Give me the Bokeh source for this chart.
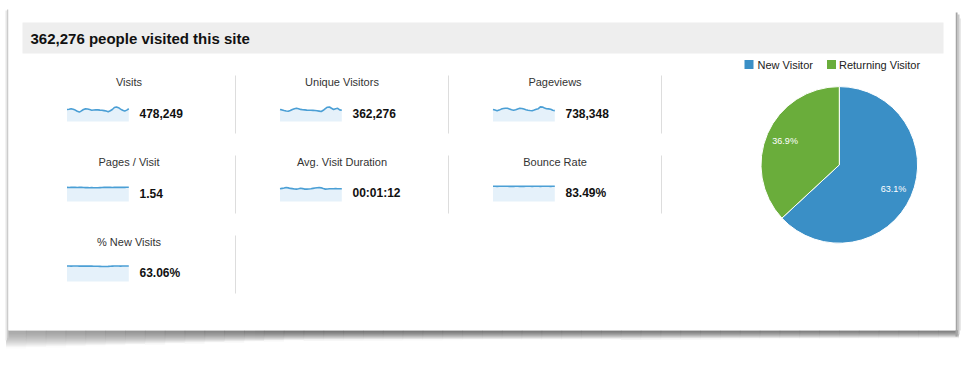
import numpy as np
from bokeh.plotting import figure
from bokeh.models import Range1d, ColumnDataSource
from bokeh.embed import file_html
from bokeh.resources import INLINE
from bokeh.core.properties import value

# ---------------- data ----------------
title_text = "362,276 people visited this site"

metric_labels = ["Visits", "Unique Visitors", "Pageviews",
                 "Pages / Visit", "Avg. Visit Duration", "Bounce Rate",
                 "% New Visits"]
metric_values = ["478,249", "362,276", "738,348",
                 "1.54", "00:01:12", "83.49%",
                 "63.06%"]

visits_daily = [15010, 15380, 15870, 15240, 14260, 12740, 11760, 13240, 15010, 15760,
                15620, 14880, 14120, 14380, 14630, 14500, 14250, 14130, 13620, 13010,
                12250, 13490, 15000, 17510, 18240, 17260, 15500, 14010, 13000, 14240, 15880]
unique_daily = [11400, 11020, 10450, 9980, 9790, 10450, 11400, 12160, 12640, 12160,
                11500, 11120, 11020, 10830, 10740, 10640, 10550, 10450, 10260, 9880,
                9500, 10640, 12160, 13590, 13780, 12540, 11400, 12160, 12540, 11020, 10640]
pageviews_daily = [22800, 21660, 20520, 21660, 23560, 24700, 25270, 25080, 23940, 22420,
                   21470, 22420, 23940, 25080, 24700, 23560, 22420, 21470, 20900, 20520,
                   21660, 23180, 24320, 27740, 27360, 25650, 24320, 23940, 23180, 21280, 20710]
pages_per_visit_daily = [1.55, 1.54, 1.55, 1.56, 1.55, 1.54, 1.55, 1.55, 1.54, 1.53,
                         1.53, 1.52, 1.53, 1.52, 1.51, 1.52, 1.53, 1.54, 1.55, 1.55,
                         1.56, 1.55, 1.54, 1.55, 1.56, 1.55, 1.55, 1.56, 1.55, 1.56, 1.56]
avg_duration_daily = [70, 72, 74, 77, 75, 72, 71, 69, 68, 70,
                      73, 71, 68, 68, 69, 70, 72, 74, 76, 77,
                      75, 71, 68, 69, 70, 70, 70, 71, 70, 70, 70]
bounce_rate_daily = [83.6, 83.5, 83.4, 83.5, 83.6, 83.7, 83.6, 83.5, 83.4, 83.3,
                     83.4, 83.5, 83.5, 83.4, 83.3, 83.4, 83.5, 83.6, 83.5, 83.4,
                     83.5, 83.6, 83.5, 83.4, 83.5, 83.5, 83.6, 83.5, 83.4, 83.5, 83.5]
new_visits_pct_daily = [63.4, 63.3, 63.2, 63.3, 63.4, 63.3, 63.2, 63.1, 63.2, 63.3,
                        63.2, 63.0, 62.9, 62.7, 62.5, 62.3, 62.0, 61.7, 61.5, 61.7,
                        62.2, 62.8, 63.1, 63.3, 63.4, 63.3, 63.2, 63.3, 63.4, 63.4, 63.5]

spark_series = [visits_daily, unique_daily, pageviews_daily,
                pages_per_visit_daily, avg_duration_daily, bounce_rate_daily,
                new_visits_pct_daily]
spark_scale_max = [25000, 19000, 38000, 2.2, 110, 110, 82]

visitor_types = ["New Visitor", "Returning Visitor"]
visitor_share = [63.1, 36.9]
visitor_colors = ["#3a8fc6", "#6aad3b"]

# ---------------- styles ----------------
FONT = value("Liberation Sans")
SPARK_LINE = "#4b9fd5"
SPARK_FILL = "#e5f1fa"

W, H = 967, 367
p = figure(width=W, height=H, x_range=Range1d(0, W), y_range=Range1d(H, 0),
           output_backend="svg", toolbar_location=None,
           x_axis_type=None, y_axis_type=None, min_border=0,
           outline_line_color=None, background_fill_color="white",
           border_fill_color="white")
p.xgrid.visible = False
p.ygrid.visible = False

# ---------------- card + shadow (decoration) ----------------
nseg = 48
xs = np.linspace(6, 958, nseg + 1)
L, R, T, B, C = [], [], [], [], []
for i in range(nseg):
    xm = 0.5 * (xs[i] + xs[i + 1])
    if xm < 300:
        g = 165 - (165 - 110) * (xm - 6) / 294
        th = 18 - 8 * (xm - 6) / 294
    else:
        g = 110 + 10 * (xm - 300) / 658
        th = 10 - 2 * (xm - 300) / 658
    nrow = int(np.ceil(th))
    for j in range(nrow):
        t = (j + 0.5) / th
        a = max(0.0, 1.0 - t ** 1.6) if t < 1 else 0.0
        if xm < 14:
            a *= (xm - 6) / 8
        lv = int(255 - (255 - g) * a)
        L.append(xs[i] - 0.4); R.append(xs[i + 1] + 0.4)
        T.append(330 + j - 0.3); B.append(330 + j + 1.3)
        C.append("#%02x%02x%02x" % (lv, lv, lv))
p.quad(left=L, right=R, top=T, bottom=B, fill_color=C, line_color=None)

# right shadow
p.quad(left=[959, 957, 955], right=[960.5, 959, 957], top=[18, 14, 12], bottom=[330, 334, 336],
       fill_color=["#e8e8e8", "#c8c8c8", "#a4a4a4"], line_color=None)
# left edge shadow
p.quad(left=[5, 6.5], right=[6.5, 8], top=[10, 9], bottom=[340, 338],
       fill_color=["#e6e6e6", "#cccccc"], line_color=None)
# card
p.quad(left=[8], right=[955], top=[8], bottom=[330], fill_color="white", line_color=None)

# header bar
p.quad(left=[22], right=[943], top=[22], bottom=[53], fill_color="#eeeeee", line_color=None)
p.text(x=[30], y=[37.5], text=[title_text], text_font=FONT, text_font_size="15px",
       text_font_style="bold", text_color="#111111", text_align="left", text_baseline="middle")

# ---------------- metric tiles ----------------
col_w = 213
lab_x, lab_y, val_x, val_y = [], [], [], []
for idx, (lab, val, series, smax) in enumerate(zip(metric_labels, metric_values,
                                                   spark_series, spark_scale_max)):
    r, c = divmod(idx, 3)
    cx = 128.5 + col_w * c
    lab_x.append(cx); lab_y.append(81.5 + 80 * r)
    val_x.append(139 + col_w * c); val_y.append(112.5 + 80 * r)
    n = len(series)
    sub = p.subplot(x_source=Range1d(0, n - 1), y_source=Range1d(0, smax),
                    x_target=Range1d(66.5 + col_w * c, 128.3 + col_w * c),
                    y_target=Range1d(121 + 80 * r, 101 + 80 * r))
    src = ColumnDataSource(dict(day=list(range(n)), v=series, base=[0] * n))
    sub.varea(x="day", y1="base", y2="v", source=src, fill_color=SPARK_FILL)
    sub.line(x="day", y="v", source=src, line_color=SPARK_LINE, line_width=1.6)

p.text(x=lab_x, y=lab_y, text=metric_labels, text_font=FONT, text_font_size="11px",
       text_color="#333333", text_align="center", text_baseline="middle")
p.text(x=val_x, y=val_y, text=metric_values, text_font=FONT, text_font_size="12px",
       text_font_style="bold", text_color="#111111", text_align="left", text_baseline="middle")

# separators
sep_x, sep_y0, sep_y1 = [], [], []
for idx in range(len(metric_labels)):
    r, c = divmod(idx, 3)
    sep_x.append(235 + col_w * c); sep_y0.append(75 + 80 * r); sep_y1.append(133 + 80 * r)
p.segment(x0=sep_x, y0=sep_y0, x1=sep_x, y1=sep_y1, line_color="#dddddd", line_width=1)

# ---------------- pie ----------------
share = np.array(visitor_share, dtype=float)
frac = share / share.sum()
cum = np.concatenate([[0], np.cumsum(frac)])
start = np.pi / 2 - 2 * np.pi * cum[1:]
end = np.pi / 2 - 2 * np.pi * cum[:-1]
pcx, pcy, pr = 838.8, 164.4, 78.3
p.wedge(x=pcx, y=pcy, radius=pr, start_angle=list(start), end_angle=list(end),
        direction="anticlock", fill_color=visitor_colors, line_color="white", line_width=1)
mid = 0.5 * (start + end)
p.text(x=list(pcx + 0.755 * pr * np.cos(mid)), y=list(pcy - 0.755 * pr * np.sin(mid)),
       text=["%.1f%%" % s for s in share], text_font=FONT, text_font_size="9px",
       text_color="white", text_align="center", text_baseline="middle")

# legend
leg_sq_x = [748.5, 831]
leg_tx_x = [757, 838.5]
p.rect(x=leg_sq_x, y=[64, 64], width=9, height=9, width_units="screen", height_units="screen",
       fill_color=visitor_colors, line_color=None)
p.text(x=leg_tx_x, y=[64, 64], text=visitor_types, text_font=FONT, text_font_size="11px",
       text_color="#222222", text_align="left", text_baseline="middle")

open("out.html", "w").write(file_html(p, INLINE))
